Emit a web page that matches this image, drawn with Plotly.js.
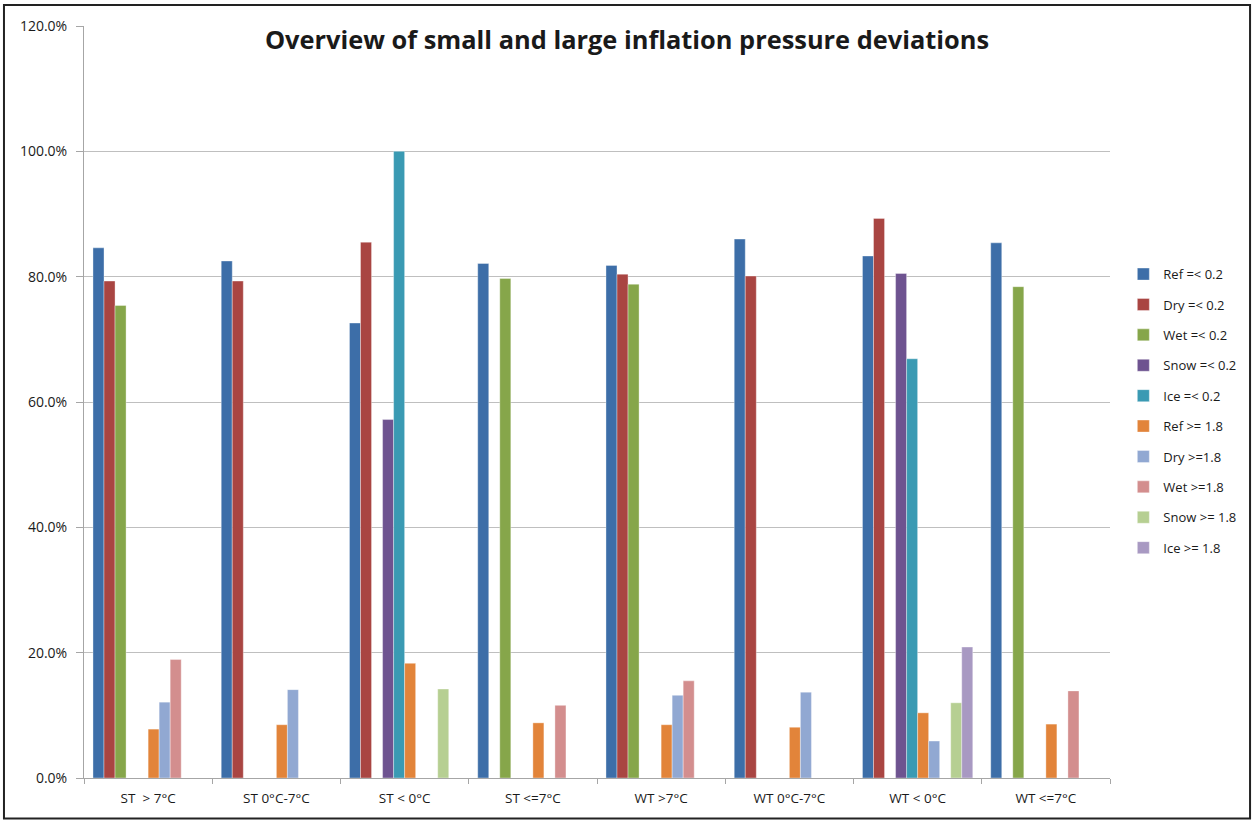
<!DOCTYPE html>
<html>
<head>
<meta charset="utf-8">
<script src="https://cdn.plot.ly/plotly-3.0.1.min.js"></script>
<style>html,body{margin:0;padding:0;background:#fff;}#chart{width:1254px;height:820px;}</style>
</head>
<body>
<div id="chart"></div>
<script>
var categories = ["ST  > 7°C", "ST 0°C-7°C", "ST < 0°C", "ST <=7°C", "WT >7°C", "WT 0°C-7°C", "WT < 0°C", "WT <=7°C"];
var seriesNames = ["Ref =< 0.2", "Dry =< 0.2", "Wet =< 0.2", "Snow =< 0.2", "Ice =< 0.2", "Ref >= 1.8", "Dry >=1.8", "Wet >=1.8", "Snow >= 1.8", "Ice >= 1.8"];
var refLow   = [84.6, 82.5, 72.6, 82.1, 81.8, 86.0, 83.3, 85.4];
var dryLow   = [79.3, 79.3, 85.5, null, 80.4, 80.1, 89.3, null];
var wetLow   = [75.4, null, null, 79.7, 78.8, null, null, 78.4];
var snowLow  = [null, null, 57.2, null, null, null, 80.5, null];
var iceLow   = [null, null, 100.0, null, null, null, 66.9, null];
var refHigh  = [7.8, 8.5, 18.3, 8.8, 8.5, 8.1, 10.4, 8.6];
var dryHigh  = [12.1, 14.1, null, null, 13.2, 13.7, 5.9, null];
var wetHigh  = [18.9, null, null, 11.6, 15.5, null, null, 13.9];
var snowHigh = [null, null, 14.2, null, null, null, 12.0, null];
var iceHigh  = [null, null, null, null, null, null, 20.9, null];
var yTickVals = [0, 20, 40, 60, 80, 100, 120];
var yTickText = ["0.0%", "20.0%", "40.0%", "60.0%", "80.0%", "100.0%", "120.0%"];

var seriesValues = [refLow, dryLow, wetLow, snowLow, iceLow, refHigh, dryHigh, wetHigh, snowHigh, iceHigh];
var colors = ["#3D6EA8", "#A94542", "#86A64A", "#6E5390", "#3A9AB3", "#E2843A", "#91A8D2", "#D38E8E", "#B6CF92", "#A899C2"];

var traces = seriesValues.map(function (vals, i) {
  return {
    type: "bar",
    name: seriesNames[i],
    x: categories,
    y: vals,
    legendgroup: "g" + i,
    marker: { color: colors[i], line: { color: "rgba(255,255,255,0.6)", width: 0.6 } },
    hoverinfo: "x+y+name"
  };
});

var layout = {
  width: 1254,
  height: 820,
  paper_bgcolor: "#ffffff",
  plot_bgcolor: "#ffffff",
  margin: { l: 84, r: 144, t: 26, b: 42 },
  barmode: "group",
  bargap: 0.14,
  bargroupgap: 0,
  showlegend: true,
  title: {
    text: "<b>Overview of small and large inflation pressure deviations</b>",
    font: { family: "Open Sans, Liberation Sans, sans-serif", size: 25.4, color: "#1a1a1a" },
    x: 0.5, xanchor: "center", xref: "container",
    y: 0.951, yanchor: "middle", yref: "container"
  },
  font: { family: "Open Sans, Liberation Sans, sans-serif", size: 13, color: "#1a1a1a" },
  xaxis: {
    type: "category",
    showline: true,
    linecolor: "#A6A6A6",
    linewidth: 1,
    ticks: "outside",
    tickson: "boundaries",
    ticklen: 5,
    tickcolor: "#A6A6A6",
    showgrid: false,
    ticklabelstandoff: 8,
    tickfont: { size: 13.5, color: "#1a1a1a" }
  },
  yaxis: {
    range: [0, 120],
    tickvals: yTickVals,
    ticktext: yTickText,
    showline: true,
    linecolor: "#A6A6A6",
    linewidth: 1,
    ticks: "outside",
    ticklen: 7,
    tickcolor: "#A6A6A6",
    showgrid: true,
    gridcolor: "#BFBFBF",
    gridwidth: 1,
    zeroline: false,
    ticklabelstandoff: 6,
    tickfont: { size: 14, color: "#1a1a1a" }
  },
  legend: {
    x: 1.013, xanchor: "left",
    y: 0.69, yanchor: "top",
    font: { size: 13, color: "#1a1a1a" },
    traceorder: "grouped",
    tracegroupgap: 10.5,
    itemwidth: 30,
    bgcolor: "rgba(0,0,0,0)"
  },
  shapes: [
    { type: "rect", xref: "paper", yref: "paper", x0: -0.078, x1: 1.1365, y0: -0.054, y1: 1.028,
      line: { color: "#222222", width: 2 }, fillcolor: "rgba(0,0,0,0)", layer: "above" }
  ]
};

Plotly.newPlot("chart", traces, layout, { displayModeBar: false, staticPlot: true });
</script>
</body>
</html>
